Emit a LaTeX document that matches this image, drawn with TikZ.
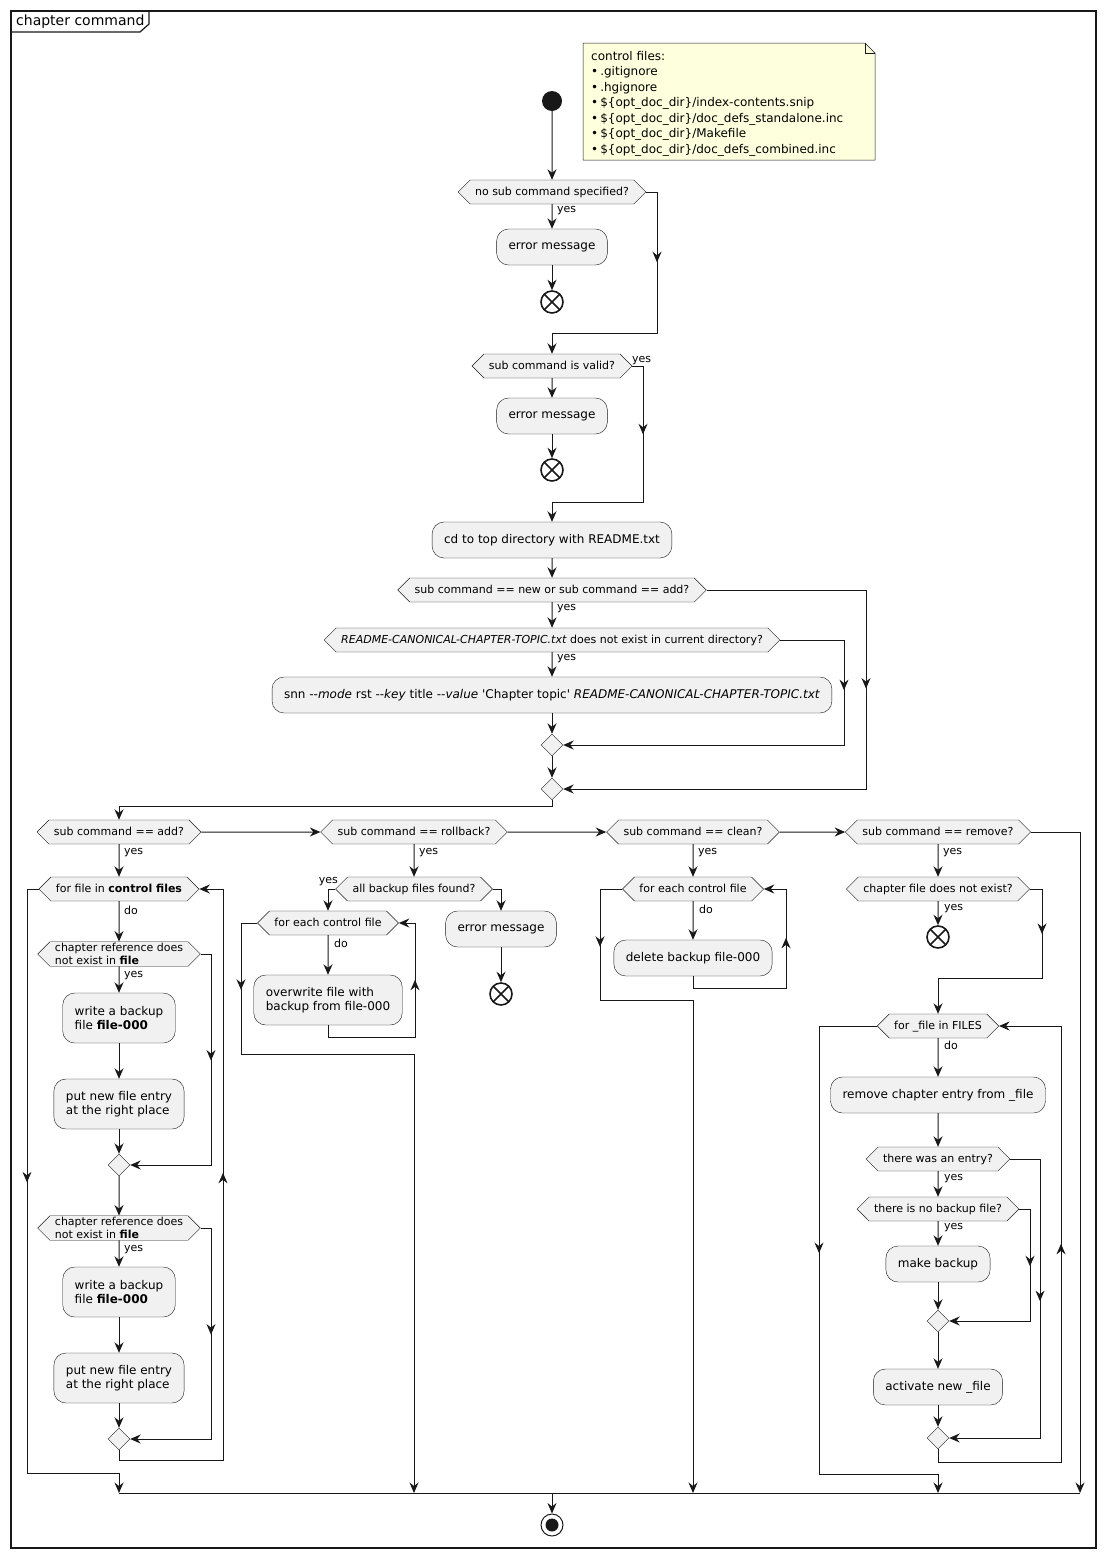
\documentclass[tikz,border=0pt]{standalone}
\usepackage{fontspec}
\setmainfont{DejaVu Sans}
\usetikzlibrary{arrows.meta, shapes.geometric, shapes.symbols, decorations.markings, positioning}

\definecolor{lineclr}{HTML}{181818}
\definecolor{boxclr}{HTML}{F1F1F1}
\definecolor{noteclr}{HTML}{FEFFDD}

\tikzset{
  umltip/.tip={Stealth[length=10.5pt,width=9pt,inset=3.5pt]},
  flow/.style={color=lineclr, line width=1pt},
  arr/.style={-umltip},
  midarr/.style={postaction={decorate}, decoration={markings, mark=at position #1 with {\arrow{umltip}}}},
  act/.style={draw=lineclr, line width=0.4pt, fill=boxclr, rounded corners=12pt, inner xsep=12pt, minimum height=36pt, align=left, font=\fontsize{12}{14}\selectfont},
  act2/.style={act, minimum height=50pt},
  dec/.style={signal, signal to=west and east, draw=lineclr, line width=0.4pt, fill=boxclr, inner xsep=5pt, inner ysep=6.5pt, text height=8.5pt, text depth=2.5pt, font=\fontsize{11}{13}\selectfont},
  dec2/.style={signal, signal to=west and east, draw=lineclr, line width=0.4pt, fill=boxclr, inner xsep=5pt, inner ysep=1.5pt, align=left, font=\fontsize{11}{13}\selectfont},
  merge/.style={diamond, draw=lineclr, line width=0.4pt, fill=boxclr, minimum size=22pt, inner sep=0pt},
  lbl/.style={font=\fontsize{11}{13}\selectfont, inner sep=0pt, anchor=west},
  startnode/.style={circle, fill=lineclr, minimum size=20pt, inner sep=0pt},
  endx/.style={circle, draw=lineclr, line width=1.6pt, minimum size=22pt, inner sep=0pt,
    path picture={\draw[lineclr, line width=1.6pt] (path picture bounding box.north west) -- (path picture bounding box.south east)
      (path picture bounding box.north east) -- (path picture bounding box.south west);}},
  stopnode/.style={circle, draw=lineclr, line width=1pt, minimum size=22pt, inner sep=0pt,
    path picture={\fill[lineclr] (path picture bounding box.center) circle (6.5pt);}},
}

\begin{document}
\begin{tikzpicture}[x=1pt, y=-1pt]
  \useasboundingbox (0,0) rectangle (1105,1558);

  % frame
  \draw[lineclr, line width=1.5pt] (11,11) rectangle (1096,1548);
  \draw[lineclr, line width=1.2pt] (11,32) -- (140,32) -- (149,24) -- (149,11);
  \node[anchor=west, inner sep=0pt, font=\fontsize{14}{16}\selectfont] (title) at (16,21.5) {chapter command};

  % note
  \draw[lineclr, line width=0.5pt, fill=noteclr] (583,43) -- (865,43) -- (875,53) -- (875,160) -- (583,160) -- cycle;
  \draw[lineclr, line width=0.5pt] (865,43) -- (865,53) -- (875,53);
  \node[anchor=north west, align=left, inner sep=0pt, font=\fontsize{12}{15.5}\selectfont] (note) at (591,51)
    {control files:\\
     \textbullet\,.gitignore\\
     \textbullet\,.hgignore\\
     \textbullet\,\$\{opt\_doc\_dir\}/index-contents.snip\\
     \textbullet\,\$\{opt\_doc\_dir\}/doc\_defs\_standalone.inc\\
     \textbullet\,\$\{opt\_doc\_dir\}/Makefile\\
     \textbullet\,\$\{opt\_doc\_dir\}/doc\_defs\_combined.inc};

  % main column
  \node[startnode] (start) at (552,101) {};
  \node[dec] (nosub) at (552,192) {no sub command specified?};
  \node[act] (err1) at (552,247) {error message};
  \node[endx] (end1) at (552,302) {};
  \node[dec] (valid) at (552,366) {sub command is valid?};
  \node[act] (err2) at (552,416) {error message};
  \node[endx] (end2) at (552,470) {};
  \node[act] (cdtop) at (552,540) {cd to top directory with README.txt};
  \node[dec] (newadd) at (552,590) {sub command == new or sub command == add?};
  \node[dec] (topic) at (552,640) {\textit{README-CANONICAL-CHAPTER-TOPIC.txt} does not exist in current directory?};
  \node[act] (snn) at (552,695) {snn -{}-\textit{mode} rst -{}-\textit{key} title -{}-\textit{value} \textquotesingle Chapter topic\textquotesingle\ \textit{README-CANONICAL-CHAPTER-TOPIC.txt}};
  \node[merge] (mtopic) at (552,745) {};
  \node[merge] (mnewadd) at (552,789) {};

  \node[lbl] (yesnosub) at (557,211) {yes};
  \node[lbl, anchor=south west] (yesvalid) at (632,365) {yes};
  \node[lbl] (yesnewadd) at (557,609) {yes};
  \node[lbl] (yestopic) at (557,659) {yes};

  \draw[flow, arr] (start) -- (nosub);
  \draw[flow, arr] (nosub) -- (err1);
  \draw[flow, arr] (err1) -- (end1);
  \draw[flow, arr, midarr=81pt] (nosub.east) -| (657,333) -| (valid.north);
  \draw[flow, arr] (valid) -- (err2);
  \draw[flow, arr] (err2) -- (end2);
  \draw[flow, arr, midarr=79pt] (valid.east) -| (643,502) -| (cdtop.north);
  \draw[flow, arr] (cdtop) -- (newadd);
  \draw[flow, arr] (newadd) -- (topic);
  \draw[flow, arr] (topic) -- (snn);
  \draw[flow, arr] (snn) -- (mtopic);
  \draw[flow, arr] (mtopic) -- (mnewadd);
  \draw[flow, arr, midarr=114pt] (topic.east) -| (844,745) -- (mtopic.east);
  \draw[flow, arr, midarr=258pt] (newadd.east) -| (866,789) -- (mnewadd.east);

  % sub commands
  \node[dec] (addq) at (119,832) {sub command == add?};
  \node[dec] (rollq) at (414,832) {sub command == rollback?};
  \node[dec] (cleanq) at (693,832) {sub command == clean?};
  \node[dec] (removeq) at (938,832) {sub command == remove?};
  \foreach \x/\n in {119/add,414/roll,693/clean,938/remove}
    \node[lbl] (yes\n) at (\x+5,853) {yes};

  \coordinate (jadd) at (119,1493);
  \coordinate (jroll) at (414,1493);
  \coordinate (jclean) at (693,1493);
  \coordinate (jremove) at (938,1493);
  \coordinate (jright) at (1080,1493);
  \coordinate (jstop) at (552,1493);

  \draw[flow, arr] (mnewadd.south) |- (119,806) -- (addq.north);
  \draw[flow, arr] (addq) -- (rollq);
  \draw[flow, arr] (rollq) -- (cleanq);
  \draw[flow, arr] (cleanq) -- (removeq);
  \draw[flow, arr] (removeq.east) -| (jright);

  % add
  \node[dec] (addloop) at (119,889) {for file in \textbf{control files}};
  \node[lbl] (doadd) at (124,910) {do};
  \foreach \i/\dy in {1/0, 2/274} {
    \node[dec2] (ref\i) at (119,954+\dy) {chapter reference does\\not exist in \textbf{file}};
    \node[lbl] (yesref\i) at (124,976+\dy) {yes};
    \node[act2] (backup\i) at (119,1018+\dy) {write a backup\\file \textbf{file-000}};
    \node[act2] (entry\i) at (119,1104+\dy) {put new file entry\\at the right place};
    \node[merge] (mref\i) at (119,1165+\dy) {};
    \draw[flow, arr] (ref\i) -- (backup\i);
    \draw[flow, arr] (backup\i) -- (entry\i);
    \draw[flow, arr] (entry\i) -- (mref\i);
    \draw[flow, arr, midarr=117pt] (ref\i.east) -| (211,1165+\dy) -- (mref\i.east);
  }
  \draw[flow, arr] (addq) -- (addloop);
  \draw[flow, arr] (addloop) -- (ref1);
  \draw[flow, arr] (mref1) -- (ref2);
  \draw[flow, arr, midarr=401pt] (mref2.south) |- (223,1460) |- (addloop.east);
  \draw[flow, arr, midarr=305pt] (addloop.west) -| (27,1473) -| (jadd);

  % rollback
  \node[dec] (allfound) at (414,889) {all backup files found?};
  \node[lbl, anchor=south east] (yesfound) at (338,886) {yes};
  \node[dec] (rollloop) at (328,923) {for each control file};
  \node[lbl] (doroll) at (334,943) {do};
  \node[act2] (overwrite) at (328,1000) {overwrite file with\\backup from file-000};
  \node[act] (err3) at (501,929) {error message};
  \node[endx] (end3) at (501,994) {};
  \draw[flow, arr] (rollq) -- (allfound);
  \draw[flow, arr] (allfound.west) -| (rollloop.north);
  \draw[flow, arr] (allfound.east) -| (err3.north);
  \draw[flow, arr] (err3) -- (end3);
  \draw[flow, arr] (rollloop) -- (overwrite);
  \draw[flow, arr, midarr=156pt] (overwrite.south) |- (415,1037) |- (rollloop.east);
  \draw[flow, arr, midarr=83pt] (rollloop.west) -| (241,1054) -| (jroll);

  % clean
  \node[dec] (cleanloop) at (693,889) {for each control file};
  \node[lbl] (doclean) at (699,909) {do};
  \node[act] (delete) at (693,958) {delete backup file-000};
  \draw[flow, arr] (cleanq) -- (cleanloop);
  \draw[flow, arr] (cleanloop) -- (delete);
  \draw[flow, arr, midarr=155pt] (delete.south) |- (786,988) |- (cleanloop.east);
  \draw[flow, arr, midarr=80pt] (cleanloop.west) -| (600,1000) -| (jclean);

  % remove
  \node[dec] (nochap) at (938,889) {chapter file does not exist?};
  \node[lbl] (yesnochap) at (944,909) {yes};
  \node[endx] (end4) at (938,937) {};
  \node[dec] (rmloop) at (938,1026) {for \_file in FILES};
  \node[lbl] (dorm) at (944,1045) {do};
  \node[act] (rmentry) at (938,1095) {remove chapter entry from \_file};
  \node[dec] (wasentry) at (938,1159) {there was an entry?};
  \node[lbl] (yesentry) at (944,1179) {yes};
  \node[dec] (nobackup) at (938,1209) {there is no backup file?};
  \node[lbl] (yesnobackup) at (944,1228) {yes};
  \node[act] (mkbackup) at (938,1264) {make backup};
  \node[merge] (mnobackup) at (938,1321) {};
  \node[act] (activate) at (938,1387) {activate new \_file};
  \node[merge] (mentry) at (938,1438) {};
  \draw[flow, arr] (removeq) -- (nochap);
  \draw[flow, arr] (nochap) -- (end4);
  \draw[flow, arr, midarr=57pt] (nochap.east) -| (1042,978) -| (rmloop.north);
  \draw[flow, arr] (rmloop) -- (rmentry);
  \draw[flow, arr] (rmentry) -- (wasentry);
  \draw[flow, arr] (wasentry) -- (nobackup);
  \draw[flow, arr] (nobackup) -- (mkbackup);
  \draw[flow, arr] (mkbackup) -- (mnobackup);
  \draw[flow, arr] (mnobackup) -- (activate);
  \draw[flow, arr] (activate) -- (mentry);
  \draw[flow, arr, midarr=68pt] (nobackup.east) -| (1030,1321) -- (mnobackup.east);
  \draw[flow, arr, midarr=172pt] (wasentry.east) -| (1040,1438) -- (mentry.east);
  \draw[flow, arr, midarr=354pt] (mentry.south) |- (1061,1462) |- (rmloop.east);
  \draw[flow, arr, midarr=285pt] (rmloop.west) -| (819,1474) -| (jremove);

  % join and stop
  \draw[flow] (jadd) -- (jright);
  \node[stopnode] (stop) at (552,1525) {};
  \draw[flow, arr] (jstop) -- (stop);
\end{tikzpicture}
\end{document}
